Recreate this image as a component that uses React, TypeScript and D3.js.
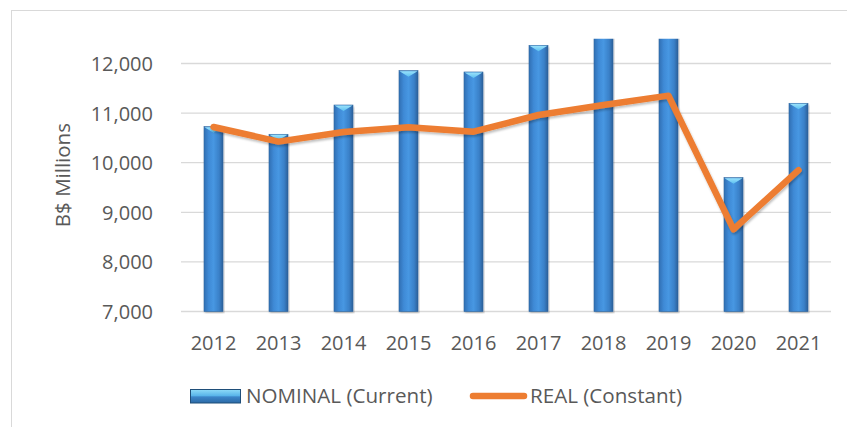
import React from "react";
import * as d3 from "d3";

const years = ["2012", "2013", "2014", "2015", "2016", "2017", "2018", "2019", "2020", "2021"];
const nominal = [10726, 10573, 11163, 11855, 11829, 12367, 12800, 12900, 9698, 11198];
const real = [10720, 10425, 10620, 10714, 10625, 10962, 11163, 11352, 8655, 9850];
const yTicks = [7000, 8000, 9000, 10000, 11000, 12000];
const seriesNames = ["NOMINAL (Current)", "REAL (Constant)"];

const W = 847;
const H = 427;
const FONT = "'Open Sans', 'Noto Sans', sans-serif";
const TEXT = "#595959";
const ORANGE = "#ED7D31";

export default function App() {
  const x = d3
    .scaleBand<string>()
    .domain(years)
    .range([181, 831])
    .paddingInner(0.708)
    .paddingOuter(0.354);
  const y = d3.scaleLinear().domain([7000, 12500]).range([311.5, 38.7]);
  const bw = x.bandwidth();
  const cx = (yr: string) => (x(yr) as number) + bw / 2;

  const line = d3
    .line<number>()
    .x((_, i) => cx(years[i]))
    .y((d) => y(d));

  const fmt = d3.format(",");

  return (
    <svg
      width={W}
      height={H}
      style={{ position: "absolute", left: 0, top: 0 }}
      fontFamily={FONT}
    >
      <defs>
        <linearGradient id="barGrad" x1="0" x2="1" y1="0" y2="0">
          <stop offset="0" stopColor="#2f6fb3" />
          <stop offset="0.25" stopColor="#3f8ad6" />
          <stop offset="0.5" stopColor="#4797e2" />
          <stop offset="0.8" stopColor="#3a80c8" />
          <stop offset="1" stopColor="#2a5f98" />
        </linearGradient>
        <linearGradient id="capGrad" x1="0" x2="0" y1="0" y2="1">
          <stop offset="0" stopColor="#9be2fb" />
          <stop offset="1" stopColor="#5cc0f0" />
        </linearGradient>
        <linearGradient id="legGrad" x1="0" x2="0" y1="0" y2="1">
          <stop offset="0" stopColor="#8fdcf8" />
          <stop offset="0.45" stopColor="#5ab6ea" />
          <stop offset="0.55" stopColor="#3c86c9" />
          <stop offset="1" stopColor="#2c6aa6" />
        </linearGradient>
        <clipPath id="plotClip">
          <rect x={181} y={38.7} width={650} height={311.5 - 38.7 + 2} />
        </clipPath>
        <filter id="shadow" x="-10%" y="-10%" width="120%" height="130%">
          <feDropShadow dx="1" dy="2" stdDeviation="1.2" floodColor="#000" floodOpacity="0.25" />
        </filter>
      </defs>

      {/* chart frame */}
      <rect x={11.5} y={10.5} width={W} height={H} fill="none" stroke="#d9d9d9" strokeWidth={1} />

      {/* gridlines */}
      {yTicks.map((t) => (
        <line
          key={t}
          x1={181}
          x2={831}
          y1={y(t)}
          y2={y(t)}
          stroke="#d9d9d9"
          strokeWidth={1.3}
        />
      ))}

      {/* y tick labels */}
      {yTicks.map((t) => (
        <text
          key={"l" + t}
          x={153}
          y={y(t)}
          textAnchor="end"
          dominantBaseline="central"
          fontSize={20}
          fill={TEXT}
        >
          {fmt(t)}
        </text>
      ))}

      {/* y axis title */}
      <text
        transform={`translate(${62},${(y(7000) + y(12500)) / 2}) rotate(-90)`}
        textAnchor="middle"
        dominantBaseline="central"
        fontSize={20.5}
        fill={TEXT}
      >
        B$ Millions
      </text>

      {/* bars */}
      <g clipPath="url(#plotClip)">
        {years.map((yr, i) => {
          const x0 = x(yr) as number;
          const top = y(nominal[i]);
          const base = y(7000);
          return (
            <g key={yr} filter="url(#shadow)">
              <rect
                x={x0}
                y={top}
                width={bw}
                height={base - top}
                fill="url(#barGrad)"
                stroke="#2b649e"
                strokeWidth={0.6}
              />
              <polygon
                points={`${x0 + 0.5},${top + 0.5} ${x0 + bw - 0.5},${top + 0.5} ${x0 + bw / 2},${top + 6}`}
                fill="url(#capGrad)"
              />
            </g>
          );
        })}
      </g>

      {/* real line */}
      <path
        d={line(real) || ""}
        fill="none"
        stroke={ORANGE}
        strokeWidth={6.5}
        strokeLinejoin="round"
        strokeLinecap="round"
        filter="url(#shadow)"
      />

      {/* x tick labels */}
      {years.map((yr) => (
        <text key={"x" + yr} x={cx(yr)} y={350} textAnchor="middle" fontSize={20} fill={TEXT}>
          {yr}
        </text>
      ))}

      {/* legend */}
      <g>
        <rect x={190.5} y={389.5} width={50} height={13.5} fill="url(#legGrad)" stroke="#1f4e79" strokeWidth={1} />
        <text x={246} y={403} fontSize={20.6} fill={TEXT}>
          {seriesNames[0]}
        </text>
        <line
          x1={473}
          x2={524}
          y1={396}
          y2={396}
          stroke={ORANGE}
          strokeWidth={6.5}
          strokeLinecap="round"
        />
        <text x={530} y={403} fontSize={20.6} fill={TEXT}>
          {seriesNames[1]}
        </text>
      </g>
    </svg>
  );
}
